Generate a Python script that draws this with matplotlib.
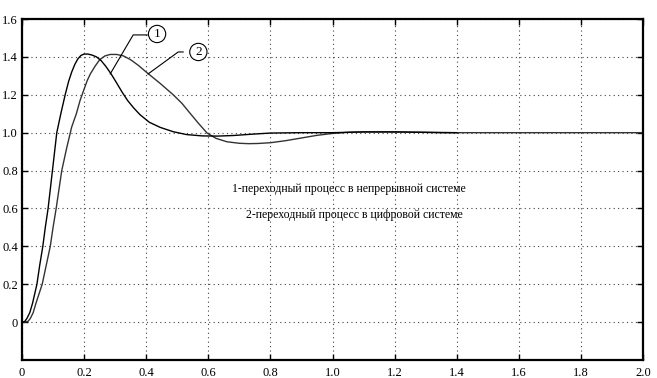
import matplotlib.pyplot as plt

# Data
# 1 - continuous system
t_cont = [0, 0.008, 0.016, 0.025, 0.034, 0.041, 0.048, 0.057, 0.067, 0.075, 0.084, 0.091,
          0.098, 0.105, 0.112, 0.125, 0.139, 0.15, 0.16, 0.17, 0.18, 0.19, 0.2, 0.212,
          0.225, 0.24, 0.255, 0.27, 0.287, 0.305, 0.322, 0.34, 0.36, 0.38, 0.41, 0.445,
          0.487, 0.53, 0.58, 0.63, 0.68, 0.74, 0.80, 0.9, 1.0, 1.1, 1.2, 1.3, 1.4]
y_cont = [0, 0.002, 0.02, 0.05, 0.1, 0.15, 0.2, 0.3, 0.4, 0.5, 0.6, 0.7,
          0.8, 0.9, 1.0, 1.1, 1.2, 1.27, 1.32, 1.36, 1.39, 1.408, 1.415, 1.415,
          1.41, 1.4, 1.38, 1.35, 1.31, 1.262, 1.215, 1.17, 1.13, 1.095, 1.055, 1.028,
          1.005, 0.99, 0.983, 0.982, 0.985, 0.992, 0.998, 1.0, 1.0, 1.004, 1.004, 1.002, 1.0]

# 2 - digital system
t_dig = [0, 0.01, 0.02, 0.027, 0.036, 0.045, 0.055, 0.065, 0.078, 0.091, 0.1, 0.11,
         0.119, 0.128, 0.144, 0.16, 0.175, 0.187, 0.2, 0.21, 0.22, 0.235, 0.25, 0.267,
         0.284, 0.305, 0.327, 0.35, 0.375, 0.40, 0.445, 0.487, 0.515, 0.54, 0.568,
         0.596, 0.625, 0.66, 0.70, 0.73, 0.76, 0.80, 0.85, 0.90, 0.95, 1.0, 1.05,
         1.1, 1.2, 1.28, 1.35, 1.5, 2.0]
y_dig = [0, 0.0, 0.005, 0.02, 0.05, 0.1, 0.15, 0.2, 0.3, 0.4, 0.5, 0.6,
         0.7, 0.8, 0.92, 1.03, 1.1, 1.17, 1.23, 1.275, 1.31, 1.35, 1.385, 1.405,
         1.413, 1.413, 1.405, 1.385, 1.355, 1.32, 1.26, 1.2, 1.155, 1.105, 1.05,
         0.998, 0.97, 0.952, 0.944, 0.942, 0.943, 0.947, 0.958, 0.972, 0.986, 0.996, 1.002,
         1.004, 1.004, 1.002, 1.0, 1.0, 1.0]

x_ticks = [0, 0.2, 0.4, 0.6, 0.8, 1.0, 1.2, 1.4, 1.6, 1.8, 2.0]
x_labels = ["0", "0.2", "0.4", "0.6", "0.8", "1.0", "1.2", "1.4", "1.6", "1.8", "2.0"]
y_ticks = [0, 0.2, 0.4, 0.6, 0.8, 1.0, 1.2, 1.4, 1.6]
y_labels = ["0", "0.2", "0.4", "0.6", "0.8", "1.0", "1.2", "1.4", "1.6"]

label_1 = "1-переходный процесс в непрерывной системе"
label_2 = "2-переходный процесс в цифровой системе"

plt.rcParams['font.family'] = ['Liberation Serif', 'DejaVu Serif']

fig = plt.figure(figsize=(6.57, 3.78), dpi=100)
ax = fig.add_axes([0.0335, 0.0476, 0.9452, 0.9021])

ax.plot(t_dig, y_dig, color="#333333", lw=1.0)
ax.plot(t_cont, y_cont, color="black", lw=1.0)

ax.set_xlim(0, 2.0)
ax.set_ylim(-0.2, 1.6)
ax.set_xticks(x_ticks)
ax.set_xticklabels(x_labels, fontsize=9)
ax.set_yticks(y_ticks)
ax.set_yticklabels(y_labels, fontsize=9)
ax.tick_params(direction="in", top=True, right=True, length=4, width=1, pad=3)
ax.tick_params(axis="x", pad=5)
ax.grid(True, linestyle=(0, (1, 3)), color="#444444", lw=0.8)
for s in ax.spines.values():
    s.set_linewidth(1.6)

# leaders + circled numbers
ax.plot([0.403, 0.358, 0.284], [1.516, 1.516, 1.31], color="black", lw=0.8)
ax.plot([0.519, 0.503, 0.406], [1.426, 1.426, 1.31], color="black", lw=0.8)
circ = dict(boxstyle="circle,pad=0.2", fc="white", ec="black", lw=0.8)
ax.text(0.435, 1.521, "1", ha="center", va="center", fontsize=9.5, bbox=circ)
ax.text(0.568, 1.426, "2", ha="center", va="center", fontsize=9.5, bbox=circ)

ax.text(1.052, 0.705, label_1, ha="center", va="center", fontsize=8.5)
ax.text(1.07, 0.563, label_2, ha="center", va="center", fontsize=8.5)

fig.savefig("out.png", dpi=100)
